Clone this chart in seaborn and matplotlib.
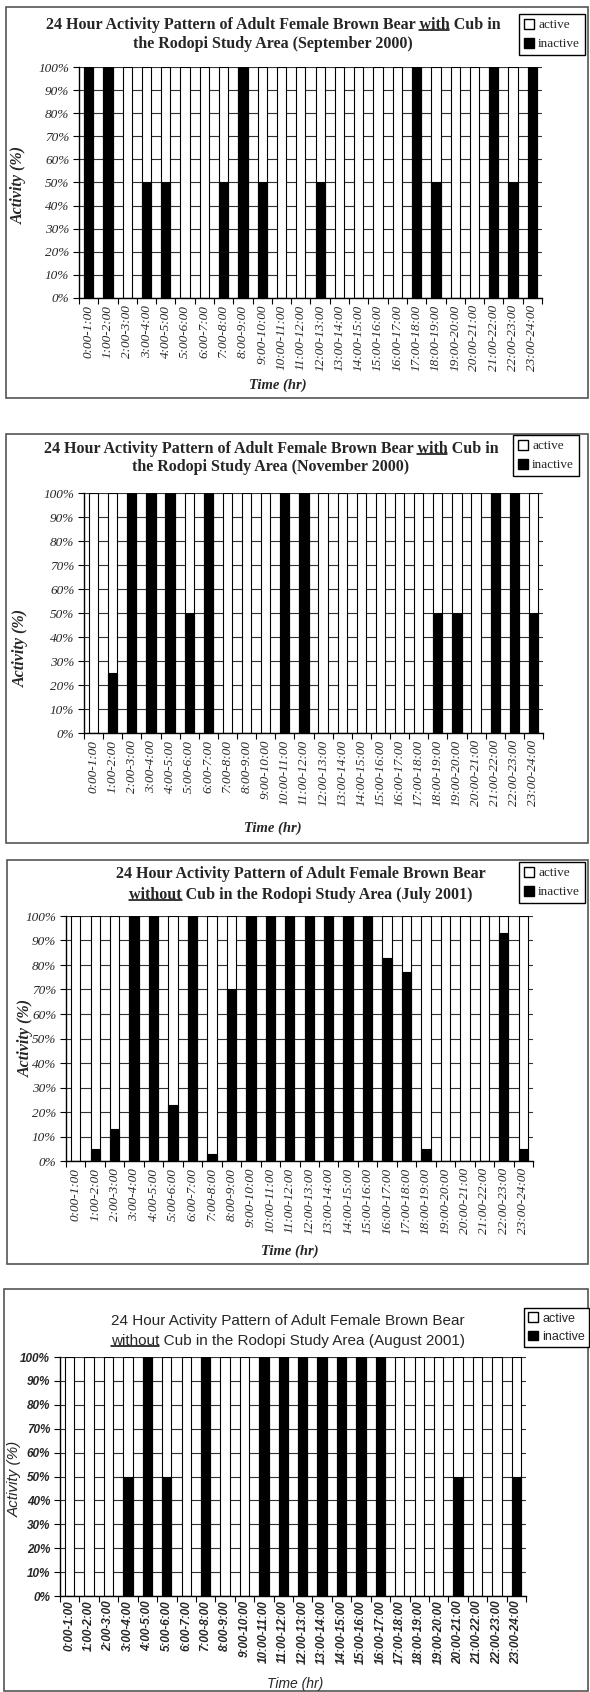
#recreating the four 24 hour activity charts (brown bear, Rodopi) with seaborn

import numpy as np
import pandas as pd
import matplotlib
matplotlib.use("Agg")
from matplotlib import pyplot as plt
from matplotlib.patches import Patch, Rectangle
from matplotlib.lines import Line2D
import seaborn as sns

#hour labels on the x axis
hours = ["0:00-1:00", "1:00-2:00", "2:00-3:00", "3:00-4:00", "4:00-5:00", "5:00-6:00",
         "6:00-7:00", "7:00-8:00", "8:00-9:00", "9:00-10:00", "10:00-11:00", "11:00-12:00",
         "12:00-13:00", "13:00-14:00", "14:00-15:00", "15:00-16:00", "16:00-17:00",
         "17:00-18:00", "18:00-19:00", "19:00-20:00", "20:00-21:00", "21:00-22:00",
         "22:00-23:00", "23:00-24:00"]

#% inactive per hour (active = rest of 100%)
sep_2000 = [100, 100, 0, 50, 50, 0, 0, 50, 100, 50, 0, 0, 50, 0, 0, 0, 0, 100, 50, 0, 0, 100, 50, 100]
nov_2000 = [0, 25, 100, 100, 100, 50, 100, 0, 0, 0, 100, 100, 0, 0, 0, 0, 0, 0, 50, 50, 0, 100, 100, 50]
jul_2001 = [0, 5, 13, 100, 100, 23, 100, 3, 70, 100, 100, 100, 100, 100, 100, 100, 83, 77, 5, 0, 0, 0, 93, 5]
aug_2001 = [0, 0, 0, 50, 100, 50, 0, 100, 0, 0, 100, 100, 100, 100, 100, 100, 100, 0, 0, 0, 50, 0, 0, 50]

pct_ticks = [0, 10, 20, 30, 40, 50, 60, 70, 80, 90, 100]

titles = [
    ["24 Hour Activity Pattern of Adult Female Brown Bear with Cub in",
     "the Rodopi Study Area (September 2000)"],
    ["24 Hour Activity Pattern of Adult Female Brown Bear with Cub in",
     "the Rodopi Study Area (November 2000)"],
    ["24 Hour Activity Pattern of Adult Female Brown Bear",
     "without Cub in the Rodopi Study Area (July 2001)"],
    ["24 Hour Activity Pattern of Adult Female Brown Bear",
     "without Cub in the Rodopi Study Area (August 2001)"],
]

W, H = 590, 1692

def fx(x):
    return x / W

def fy(y):
    return 1 - y / H

#layout in pixels (left, top, right, bottom)
panels = [
    dict(vals=sep_2000, title=titles[0], box=(6, 7, 588, 398), plot=(79, 67, 542, 298),
         title_x=273, title_y=(25, 44), uline=(0, "with"), legend=(519, 14),
         ylab=(19, 185), xlab=(278, 385), style="serif"),
    dict(vals=nov_2000, title=titles[1], box=(6, 434, 588, 843), plot=(84, 493, 543, 733),
         title_x=271, title_y=(449, 467), uline=(0, "with"), legend=(513, 435),
         ylab=(21, 648), xlab=(273, 828), style="serif"),
    dict(vals=jul_2001, title=titles[2], box=(7, 860, 588, 1264), plot=(66, 916, 533, 1161),
         title_x=301, title_y=(874, 895), uline=(1, "without"), legend=(519, 862),
         ylab=(26, 1038), xlab=(290, 1251), style="serif"),
    dict(vals=aug_2001, title=titles[3], box=(4, 1289, 588, 1691), plot=(60, 1357, 526, 1596),
         title_x=288, title_y=(1321, 1341), uline=(1, "without"), legend=(524, 1308),
         ylab=(15, 1479), xlab=(295, 1684), style="sans"),
]

fonts = {
    "serif": dict(family="Liberation Serif",
                  title=dict(size=11.5, weight="bold", style="normal"),
                  ytick=dict(size=9.5, weight="normal", style="italic"),
                  xtick=dict(size=9.5, weight="normal", style="italic"),
                  ylab=dict(size=11.5, weight="bold", style="italic"),
                  xlab=dict(size=10.5, weight="bold", style="italic"),
                  legend=dict(size=9.5, weight="normal", style="normal"),
                  xpad=5),
    "sans": dict(family="Liberation Sans",
                 title=dict(size=11, weight="normal", style="normal"),
                 ytick=dict(size=8.5, weight="bold", style="italic"),
                 xtick=dict(size=8.5, weight="bold", style="italic"),
                 ylab=dict(size=11, weight="normal", style="italic"),
                 xlab=dict(size=10, weight="normal", style="italic"),
                 legend=dict(size=9, weight="normal", style="normal"),
                 xpad=3),
}

sns.set_style("ticks")
plt.rcParams["font.family"] = ["Liberation Serif", "DejaVu Sans"]

fig = plt.figure(figsize=(5.9, 16.92), dpi=100)
renderer = fig.canvas.get_renderer()


def text_width(s, fp):
    tmp = fig.text(0, 0, s, fontproperties=fp)
    w = tmp.get_window_extent(renderer).width
    tmp.remove()
    return w


#matplotlib has no underline, so draw a line under the word by hand
def underline(txt, word):
    s = txt.get_text()
    i = s.find(word)
    fp = txt.get_fontproperties()
    bb = txt.get_window_extent(renderer)
    end = bb.x0 + text_width(s[:i + len(word)], fp)
    start = end - text_width(word, fp)
    y = bb.y0 + 0.16 * bb.height
    inv = fig.transFigure.inverted()
    (a, yy), (b, _) = inv.transform([(start, y), (end, y)])
    fig.add_artist(Line2D([a, b], [yy, yy], color="black", linewidth=1.1))


for p in panels:
    f = fonts[p["style"]]
    fam = [f["family"], "DejaVu Sans"]

    #outer frame of each chart
    bx0, by0, bx1, by1 = p["box"]
    fig.patches.append(Rectangle((fx(bx0), fy(by1)), (bx1 - bx0) / W, (by1 - by0) / H,
                                 transform=fig.transFigure, fill=False,
                                 edgecolor="#555555", linewidth=1.2))

    x0, y0, x1, y1 = p["plot"]
    ax = fig.add_axes([fx(x0), fy(y1), (x1 - x0) / W, (y1 - y0) / H])

    df = pd.DataFrame({"hour": hours, "inactive": p["vals"]})
    df["active"] = 100 - df["inactive"]
    df["total"] = df["active"] + df["inactive"]

    #stacked 100% bars: white total behind, black inactive in front
    sns.barplot(data=df, x="hour", y="total", color="white", edgecolor="black",
                linewidth=0.8, width=0.48, saturation=1, ax=ax)
    sns.barplot(data=df, x="hour", y="inactive", color="black", edgecolor="black",
                linewidth=0.8, width=0.48, saturation=1, ax=ax)

    ax.set_xlim(-0.5, 23.5)
    ax.set_ylim(0, 100)
    ax.set_axisbelow(True)
    ax.yaxis.grid(True, color="#333333", linewidth=0.8)
    ax.xaxis.grid(False)
    for side in ["top", "right"]:
        ax.spines[side].set_visible(False)
    for side in ["left", "bottom"]:
        ax.spines[side].set_color("black")
        ax.spines[side].set_linewidth(1)

    ax.set_yticks(pct_ticks)
    ax.set_yticklabels([f"{v}%" for v in pct_ticks], family=fam, **f["ytick"])
    ax.set_xticks(range(len(hours)))
    ax.set_xticklabels(hours, rotation=90, family=fam, **f["xtick"])
    ax.set_xticks(np.arange(-0.5, len(hours), 1), minor=True)
    ax.tick_params(axis="x", which="major", length=0, pad=f["xpad"])
    ax.tick_params(axis="x", which="minor", length=4, width=0.8, direction="out", color="black")
    ax.tick_params(axis="y", length=4, width=0.8, direction="out", color="black", pad=3)
    ax.set_xlabel("")
    ax.set_ylabel("")

    #titles
    for k, line in enumerate(p["title"]):
        t = fig.text(fx(p["title_x"]), fy(p["title_y"][k]), line, ha="center", va="center",
                     family=fam, **f["title"])
        if k == p["uline"][0]:
            underline(t, p["uline"][1])

    fig.text(fx(p["ylab"][0]), fy(p["ylab"][1]), "Activity (%)", rotation=90,
             ha="center", va="center", family=fam, **f["ylab"])
    fig.text(fx(p["xlab"][0]), fy(p["xlab"][1]), "Time (hr)",
             ha="center", va="center", family=fam, **f["xlab"])

    handles = [Patch(facecolor="white", edgecolor="black", label="active"),
               Patch(facecolor="black", edgecolor="black", label="inactive")]
    lg = fig.legend(handles=handles, loc="upper left",
                    bbox_to_anchor=(fx(p["legend"][0]), fy(p["legend"][1])),
                    frameon=True, fancybox=False, edgecolor="black", framealpha=1,
                    handlelength=0.8, handleheight=0.8, handletextpad=0.3,
                    borderpad=0.35, labelspacing=0.5, borderaxespad=0,
                    prop=dict(family=fam, **f["legend"]))
    lg.get_frame().set_linewidth(1)

fig.savefig("out.png", dpi=100)
